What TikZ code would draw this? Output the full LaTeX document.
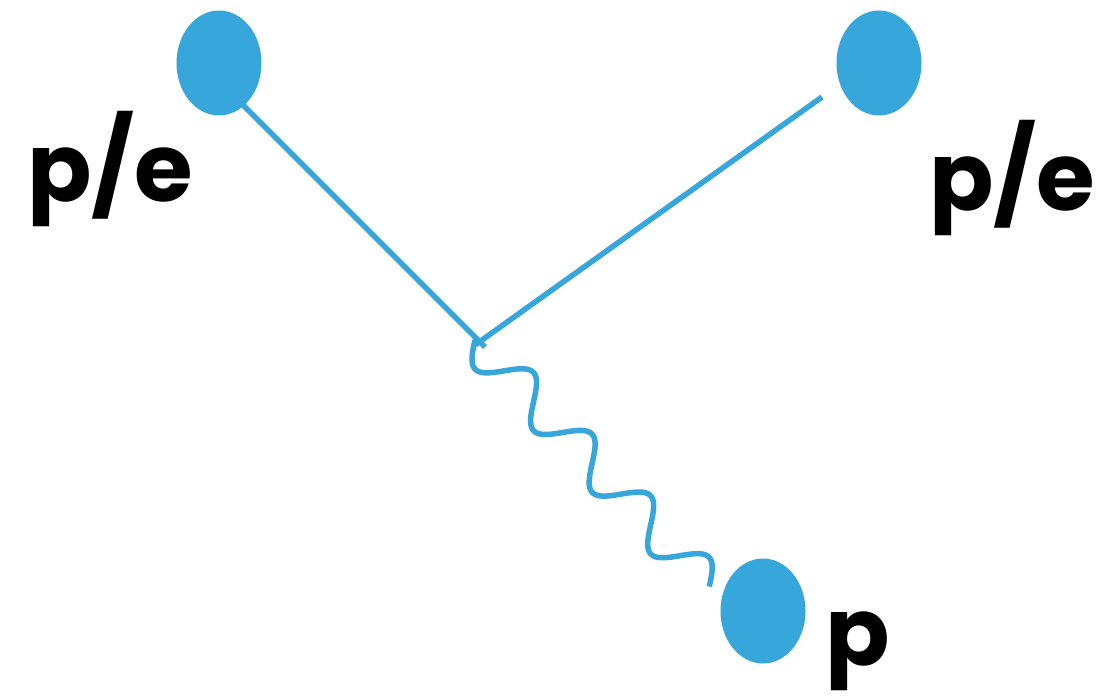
\documentclass[tikz,border=0pt]{standalone}
\usepackage{fontspec}
\setmainfont{Poppins}[BoldFont={* Bold}]
\usetikzlibrary{shapes.geometric}
\definecolor{ballblue}{HTML}{36A6DB}
\begin{document}
\begin{tikzpicture}[x=1pt,y=-1pt,
  ball/.style={ellipse,fill=ballblue,minimum width=85pt,minimum height=105pt,inner sep=0pt},
  leg/.style={draw=ballblue,line width=5.5pt},
  lbl/.style={anchor=base west,inner sep=0pt,font=\fontsize{95}{95}\selectfont\bfseries}]
\useasboundingbox (0,0) rectangle (1102,700);
\coordinate (s1) at (240,102);
\coordinate (v1) at (485,347);
\coordinate (s2) at (822,97);
\coordinate (v2) at (475,345);
\draw[leg] (s1) -- (v1);
\draw[leg] (s2) -- (v2);
\node[ball] (b1) at (219,63) {};
\node[ball] (b2) at (879,63) {};
\node[ball] (b3) at (763,611) {};
\draw[leg,line width=5.5pt,line cap=butt] plot[domain=0:340,samples=240,variable=\s]
  ({475+0.689*\s-14.5*sin(\s*4.23529)}, {340+0.725*\s+13.78*sin(\s*4.23529)});
\node[lbl] (t1) at (27,202) {p/e};
\node[lbl] (t2) at (929,211) {p/e};
\node[lbl] (t3) at (825,665) {p};
\end{tikzpicture}
\end{document}
